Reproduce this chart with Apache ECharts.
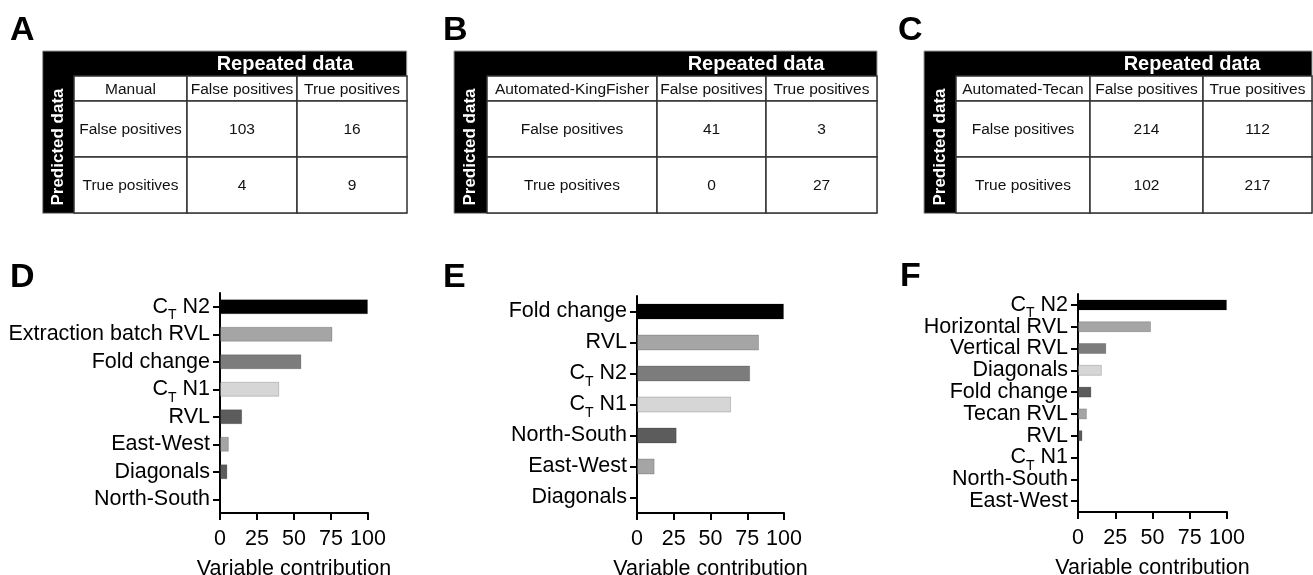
<!DOCTYPE html>
<html>
<head>
<meta charset="utf-8">
<script src="https://cdn.jsdelivr.net/npm/echarts@6/dist/echarts.min.js"></script>
<style>
html, body { margin: 0; background: #fff; }
#main { width: 1313px; height: 575px; }
</style>
</head>
<body>
<div id="main"></div>
<script>
// --- confusion tables (A, B, C) ---
const colHeads = ['False positives', 'True positives']
const rowHeads = ['False positives', 'True positives']
const cornerA = 'Manual'
const cornerB = 'Automated-KingFisher'
const cornerC = 'Automated-Tecan'
const countsA = [[103, 16], [4, 9]]
const countsB = [[41, 3], [0, 27]]
const countsC = [[214, 112], [102, 217]]

// --- variable contribution (D, E, F) ---
const catsD = ['C_T N2', 'Extraction batch RVL', 'Fold change', 'C_T N1', 'RVL', 'East-West', 'Diagonals', 'North-South']
const valsD = [100, 76, 55, 40, 15, 6, 5, 0]
const catsE = ['Fold change', 'RVL', 'C_T N2', 'C_T N1', 'North-South', 'East-West', 'Diagonals']
const valsE = [100, 83, 77, 64, 27, 12, 0]
const catsF = ['C_T N2', 'Horizontal RVL', 'Vertical RVL', 'Diagonals', 'Fold change', 'Tecan RVL', 'RVL', 'C_T N1', 'North-South', 'East-West']
const valsF = [100, 49, 19, 16, 9, 6, 3, 0, 0, 0]
const xTicks = [0, 25, 50, 75, 100]

const FONT = '"Liberation Sans", Arial, Helvetica, sans-serif'
const barColors = ['#000000', '#a5a5a5', '#7c7c7c', '#d6d6d6', '#5c5c5c', '#a5a5a5', '#5c5c5c', '#000000', '#000000', '#000000']
const rowH = [25, 56, 56]

const tables = [
  { corner: cornerA, counts: countsA, box: [42.7, 51, 406.7, 213.3], left: 74, colW: [113, 110, 110], headX: 285 },
  { corner: cornerB, counts: countsB, box: [454, 51, 877, 213.3], left: 487, colW: [170, 109, 111], headX: 756 },
  { corner: cornerC, counts: countsC, box: [924, 51, 1312, 213.3], left: 956, colW: [134, 113, 109], headX: 1192 }
]

const bars = [
  { cats: catsD, vals: valsD, grid: { left: 220, top: 293, width: 148, height: 220 }, barWidth: 15 },
  { cats: catsE, vals: valsE, grid: { left: 637, top: 296, width: 147, height: 217 }, barWidth: 16 },
  { cats: catsF, vals: valsF, grid: { left: 1078, top: 294, width: 149, height: 218 }, barWidth: 11 }
]

function edges(ws) {
  const out = [0]
  ws.forEach(w => out.push(out[out.length - 1] + w))
  return out
}

function cellText(t, c, r) {
  if (r === 0) return c === 0 ? t.corner : colHeads[c - 1]
  return c === 0 ? rowHeads[r - 1] : String(t.counts[r - 1][c - 1])
}

const grids = []
const xAxes = []
const yAxes = []
const series = []
const graphics = []

tables.forEach((t, i) => {
  const xe = edges(t.colW)
  const ye = edges(rowH)
  grids.push({ left: t.left, top: 76, width: xe[3], height: ye[3], outerBoundsMode: 'none' })
  xAxes.push({ type: 'value', gridIndex: i, min: 0, max: xe[3], show: false })
  yAxes.push({ type: 'value', gridIndex: i, min: 0, max: ye[3], inverse: true, show: false })
  const cells = []
  for (let r = 0; r < 3; r++) for (let c = 0; c < 3; c++) cells.push([c, r])
  series.push({
    type: 'custom',
    xAxisIndex: i,
    yAxisIndex: i,
    clip: false,
    silent: true,
    data: cells,
    renderItem(params, api) {
      const c = api.value(0)
      const r = api.value(1)
      const p0 = api.coord([xe[c], ye[r]])
      const p1 = api.coord([xe[c + 1], ye[r + 1]])
      return {
        type: 'group',
        children: [{
          type: 'rect',
          shape: { x: p0[0], y: p0[1], width: p1[0] - p0[0], height: p1[1] - p0[1] },
          style: { fill: '#fff', stroke: '#333', lineWidth: 1.5 }
        }, {
          type: 'text',
          style: {
            text: cellText(t, c, r),
            x: (p0[0] + p1[0]) / 2,
            y: (p0[1] + p1[1]) / 2 + 1,
            align: 'center',
            verticalAlign: 'middle',
            fontSize: 15.5,
            fontFamily: FONT,
            fill: '#111'
          }
        }]
      }
    }
  })
  const b = t.box
  graphics.push({
    type: 'rect', z: -1,
    shape: { x: b[0], y: b[1], width: b[2] - b[0], height: b[3] - b[1] },
    style: { fill: '#000', stroke: '#999', lineWidth: 1 }
  })
  graphics.push({
    type: 'text', z: 10,
    style: { text: 'Repeated data', x: t.headX, y: 64, align: 'center', verticalAlign: 'middle', fontSize: 20, fontWeight: 'bold', fontFamily: FONT, fill: '#fff' }
  })
  graphics.push({
    type: 'text', z: 10,
    x: (b[0] + t.left) / 2, y: 147, rotation: Math.PI / 2,
    style: { text: 'Predicted data', x: 0, y: 0, align: 'center', verticalAlign: 'middle', fontSize: 17, fontWeight: 'bold', fontFamily: FONT, fill: '#fff' }
  })
})

const subRich = {
  c: { fontSize: 21.5, fontFamily: FONT, color: '#000' },
  t: { fontSize: 14, fontFamily: FONT, color: '#000', padding: [17, 0, 0, 0] }
}

bars.forEach((p, k) => {
  const gi = k + 3
  grids.push(Object.assign({ outerBoundsMode: 'none' }, p.grid))
  xAxes.push({
    type: 'value', gridIndex: gi, min: 0, max: 100, interval: 25,
    splitLine: { show: false },
    axisLine: { show: true, lineStyle: { color: '#000', width: 2 } },
    axisTick: { show: true, length: 7, lineStyle: { color: '#000', width: 2 } },
    axisLabel: { fontSize: 21.5, fontFamily: FONT, color: '#000', margin: 15, formatter: v => xTicks.includes(v) ? String(v) : '' },
    name: 'Variable contribution', nameLocation: 'middle', nameGap: 45,
    nameTextStyle: { fontSize: 21.5, fontFamily: FONT, color: '#000' }
  })
  yAxes.push({
    type: 'category', gridIndex: gi, data: p.cats, inverse: true,
    axisLine: { show: true, lineStyle: { color: '#000', width: 2 } },
    axisTick: { show: true, alignWithLabel: true, length: 7, lineStyle: { color: '#000', width: 2 } },
    axisLabel: {
      interval: 0, hideOverlap: false,
      fontSize: 21.5, fontFamily: FONT, color: '#000', margin: 10,
      formatter: v => v.replace('C_T', '{c|C}{t|T}'),
      rich: subRich
    }
  })
  series.push({
    type: 'bar',
    xAxisIndex: gi,
    yAxisIndex: gi,
    barWidth: p.barWidth,
    silent: true,
    data: p.vals.map((v, i) => ({
      value: v,
      itemStyle: { color: barColors[i], borderColor: 'rgba(0,0,0,0.18)', borderWidth: v > 0 ? 1 : 0 }
    }))
  })
})

const letters = [['A', 10, 14], ['B', 443, 14], ['C', 898, 14], ['D', 10, 261], ['E', 443, 261], ['F', 900, 260]]

const chart = echarts.init(document.getElementById('main'))
chart.setOption({
  backgroundColor: '#fff',
  animation: false,
  textStyle: { fontFamily: FONT },
  title: letters.map(l => ({
    text: l[0], left: l[1], top: l[2], padding: 0,
    textStyle: { fontSize: 34, fontWeight: 'bold', fontFamily: FONT, color: '#000' }
  })),
  grid: grids,
  xAxis: xAxes,
  yAxis: yAxes,
  series: series,
  graphic: graphics
})
</script>
</body>
</html>
